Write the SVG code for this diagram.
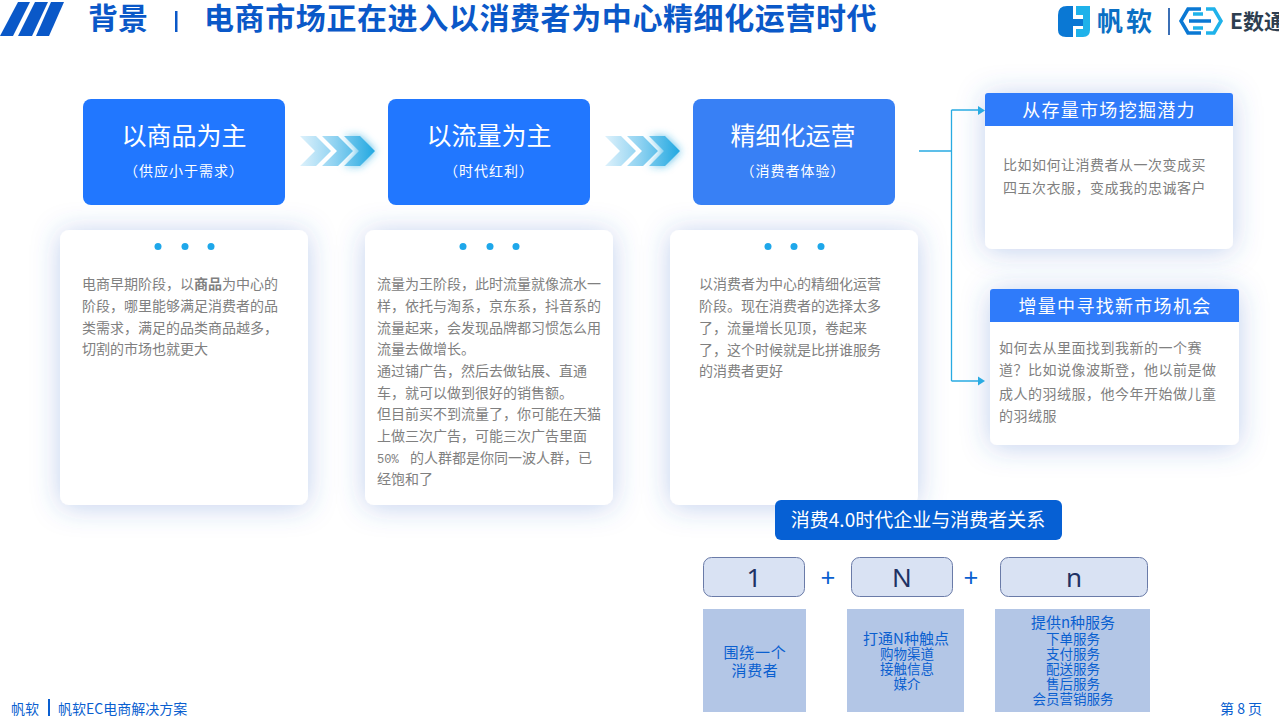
<svg xmlns="http://www.w3.org/2000/svg" width="1279" height="716" viewBox="0 0 1279 716">
<style>
text{font-family:"Noto Sans CJK SC","Noto Sans",sans-serif}
.tt{font-weight:700;font-size:30px;fill:#0a58c8}
.big{font-size:25px;fill:#fff;text-anchor:middle}
.sub{font-size:14px;fill:#fff;text-anchor:middle;letter-spacing:1px}
.b{font-size:14px;fill:#808080}
.r{font-size:14px;fill:#808080;letter-spacing:.5px}
.h{font-size:18px;fill:#fff;text-anchor:middle;letter-spacing:1.3px}
.bl{font-size:13.5px;fill:#0a5fd0;text-anchor:middle}
.bl1{font-size:15px;fill:#0a5fd0;text-anchor:middle}
.ft{font-size:14px;fill:#0a5fd0}
.dot{fill:#1ea7ea}
.card{fill:#fff;filter:url(#sh)}
.num{font-family:"Noto Sans",sans-serif;font-size:26px;fill:#1f3264;text-anchor:middle}
.nb{fill:#d9e2f3;stroke:#6a7ba8;stroke-width:1}
.ib{fill:#b3c6e6}
.plus{font-family:"Noto Sans",sans-serif;font-size:26px;fill:#0a5fd0;text-anchor:middle}
.cn{fill:none;stroke:#29abe2;stroke-width:1.3}
</style>
<defs>
<filter id="sh" x="-30%" y="-30%" width="160%" height="160%"><feDropShadow dx="0" dy="2" stdDeviation="14" flood-color="#3a66c8" flood-opacity=".3"/></filter>
<filter id="gl" x="-30%" y="-60%" width="160%" height="220%"><feGaussianBlur stdDeviation="4"/></filter>
<linearGradient id="cg" gradientUnits="userSpaceOnUse" x1="298" y1="0" x2="372" y2="0"><stop offset="0" stop-color="#e2f3fc"/><stop offset=".5" stop-color="#8fd2f1"/><stop offset="1" stop-color="#29abe2"/></linearGradient>
<linearGradient id="gg" gradientUnits="userSpaceOnUse" x1="298" y1="0" x2="372" y2="0"><stop offset="0" stop-color="#29abe2" stop-opacity="0"/><stop offset="1" stop-color="#29abe2" stop-opacity=".9"/></linearGradient>
<g id="chev"><polygon fill="url(#gg)" filter="url(#gl)" points="344,136 360,136 375,151 360,166 344,166 359,151"/>
<polygon fill="url(#cg)" points="300,136 316,136 331,151 316,166 300,166 315,151"/><polygon fill="url(#cg)" points="322,136 338,136 353,151 338,166 322,166 337,151"/><polygon fill="url(#cg)" points="344,136 360,136 375,151 360,166 344,166 359,151"/></g>
</defs>
<rect width="1279" height="716" fill="#fff"/>
<g id="header">
<polygon fill="#0a58c8" points="18,2 30,2 13,36 0,36"/><polygon fill="#0a58c8" points="35,2 48,2 32,36 18,36"/><polygon fill="#0a58c8" points="51,2 64,2 49,36 36,36"/>
<text class="tt" x="88" y="29">背景</text>
<rect x="175" y="11" width="2.5" height="21" fill="#0a58c8"/>
<text class="tt" x="204" y="29" style="letter-spacing:.6px">电商市场正在进入以消费者为中心精细化运营时代</text>
</g>
<g id="logo">
<path fill="#0a78d4" d="M1058,15Q1058,6 1067,6H1073V19H1083V26H1073V37H1066Q1058,37 1058,30Z"/>
<path fill="#1fb2ea" d="M1076,6H1090V30Q1090,37 1083,37H1076V29H1083V15H1076Z"/>
<text x="1097" y="31" font-size="26" font-weight="700" fill="#0a6fc4" letter-spacing="3">帆软</text>
<rect x="1168" y="8" width="2" height="27" fill="#3b6fb5"/>
<path fill="none" stroke="#0a78d4" stroke-width="3.5" d="M1201,9H1188L1181,21L1188,33H1201M1189,21H1211"/>
<path fill="none" stroke="#1fb2ea" stroke-width="3.5" d="M1206,9H1214L1221,21L1214,33H1206M1193,14H1203M1193,28H1203"/>
<text x="1230" y="29" font-size="21" font-weight="700" fill="#2d3e50">E数通</text>
</g>
<g id="card1"><rect class="card" x="60" y="230" width="248" height="275" rx="9"/>
<circle class="dot" cx="158" cy="246.500" r="3.500"/><circle class="dot" cx="185" cy="246.500" r="3.500"/><circle class="dot" cx="211" cy="246.500" r="3.500"/>
<text class="b" x="82" y="289">电商早期阶段，以<tspan font-weight="700">商品</tspan>为中心的</text>
<text class="b" x="82" y="311">阶段，哪里能够满足消费者的品</text>
<text class="b" x="82" y="333">类需求，满足的品类商品越多，</text>
<text class="b" x="82" y="354">切割的市场也就更大</text></g>
<g id="card2"><rect class="card" x="365" y="230" width="248" height="275" rx="9"/>
<circle class="dot" cx="463" cy="246.500" r="3.500"/><circle class="dot" cx="490" cy="246.500" r="3.500"/><circle class="dot" cx="516" cy="246.500" r="3.500"/>
<text class="b" x="377" y="289">流量为王阶段，此时流量就像流水一</text>
<text class="b" x="377" y="311">样，依托与淘系，京东系，抖音系的</text>
<text class="b" x="377" y="333">流量起来，会发现品牌都习惯怎么用</text>
<text class="b" x="377" y="354">流量去做增长。</text>
<text class="b" x="377" y="376">通过铺广告，然后去做钻展、直通</text>
<text class="b" x="377" y="398">车，就可以做到很好的销售额。</text>
<text class="b" x="377" y="419">但目前买不到流量了，你可能在天猫</text>
<text class="b" x="377" y="441">上做三次广告，可能三次广告里面</text>
<text class="b" x="377" y="463"><tspan font-family="Liberation Mono" font-size="12">50%</tspan><tspan x="410">的人群都是你同一波人群，已</tspan></text>
<text class="b" x="377" y="484">经饱和了</text></g>
<g id="card3"><rect class="card" x="670" y="230" width="248" height="275" rx="9"/>
<circle class="dot" cx="768" cy="246.500" r="3.500"/><circle class="dot" cx="794" cy="246.500" r="3.500"/><circle class="dot" cx="821" cy="246.500" r="3.500"/>
<text class="b" x="699" y="289">以消费者为中心的精细化运营</text>
<text class="b" x="699" y="311">阶段。现在消费者的选择太多</text>
<text class="b" x="699" y="333">了，流量增长见顶，卷起来</text>
<text class="b" x="699" y="355">了，这个时候就是比拼谁服务</text>
<text class="b" x="699" y="376">的消费者更好</text></g>
<g id="stage1"><rect x="83" y="99" width="202" height="106" rx="8" fill="#2177ff"/>
<text class="big" x="184" y="144.500">以商品为主</text><text class="sub" x="184" y="176">（供应小于需求）</text></g>
<g id="stage2"><rect x="388" y="99" width="202" height="106" rx="8" fill="#2177ff"/>
<text class="big" x="489" y="144.500">以流量为主</text><text class="sub" x="489" y="176">（时代红利）</text></g>
<g id="stage3"><rect x="693" y="99" width="202" height="106" rx="8" fill="#3880f5"/>
<text class="big" x="793" y="144.500">精细化运营</text><text class="sub" x="793" y="176">（消费者体验）</text></g>
<g id="chevrons"><use href="#chev"/><use href="#chev" x="305"/></g>
<g id="right1"><rect class="card" x="985" y="93" width="248" height="156" rx="7"/>
<path fill="#2f7bfa" d="M988,93H1230a3,3 0 0 1 3,3V126H985V96a3,3 0 0 1 3,-3Z"/>
<text class="h" x="1109" y="116.500">从存量市场挖掘潜力</text>
<text class="r" x="1003" y="170">比如如何让消费者从一次变成买</text>
<text class="r" x="1003" y="193">四五次衣服，变成我的忠诚客户</text></g>
<g id="right2"><rect class="card" x="990" y="289" width="249" height="156" rx="7"/>
<path fill="#2f7bfa" d="M993,289H1236a3,3 0 0 1 3,3V322H990V292a3,3 0 0 1 3,-3Z"/>
<text class="h" x="1115" y="312.500">增量中寻找新市场机会</text>
<text class="r" x="999" y="353">如何去从里面找到我新的一个赛</text>
<text class="r" x="999" y="375">道？比如说像波斯登，他以前是做</text>
<text class="r" x="999" y="399">成人的羽绒服，他今年开始做儿童</text>
<text class="r" x="999" y="421">的羽绒服</text></g>
<g id="connectors">
<path class="cn" d="M919,151H951.500M951.500,110V381M951.500,110H979M951.500,381H979"/>
<polygon fill="#29abe2" points="978,106 985,110.500 978,115"/><polygon fill="#29abe2" points="978,376.500 985,381 978,385.500"/>
</g>
<g id="relation"><rect x="775" y="500" width="287" height="40" rx="6" fill="#0660d4"/>
<text x="918" y="527" font-size="19" fill="#fff" text-anchor="middle">消费4.0时代企业与消费者关系</text></g>
<g id="n1"><rect class="nb" x="703.500" y="557.500" width="101" height="39" rx="8"/><text class="num" x="754" y="587">1</text></g>
<g id="n2"><rect class="nb" x="851.500" y="557.500" width="101" height="39" rx="8"/><text class="num" x="902" y="587">N</text></g>
<g id="n3"><rect class="nb" x="1000.500" y="557.500" width="147" height="39" rx="8"/><text class="num" x="1074" y="587">n</text></g>
<text class="plus" x="828" y="587">+</text><text class="plus" x="971" y="587">+</text>
<g id="i1"><rect class="ib" x="703" y="609" width="103" height="103"/>
<text class="bl1" x="755" y="658" style="letter-spacing:.7px">围绕一个</text><text class="bl1" x="755" y="676" style="letter-spacing:.7px">消费者</text></g>
<g id="i2"><rect class="ib" x="847" y="609" width="117" height="103"/>
<text class="bl1" x="906" y="644">打通N种触点</text><text class="bl" x="907" y="659">购物渠道</text><text class="bl" x="907" y="674">接触信息</text><text class="bl" x="907" y="689">媒介</text></g>
<g id="i3"><rect class="ib" x="995" y="609" width="155" height="103"/>
<text class="bl1" x="1073" y="628">提供n种服务</text><text class="bl" x="1073" y="644">下单服务</text><text class="bl" x="1073" y="659">支付服务</text><text class="bl" x="1073" y="674">配送服务</text><text class="bl" x="1073" y="689">售后服务</text><text class="bl" x="1073" y="704">会员营销服务</text></g>
<g id="footer"><text class="ft" x="11" y="714">帆软</text><rect x="48" y="699" width="2" height="17" fill="#0a5fd0"/>
<text class="ft" x="58" y="714">帆软EC电商解决方案</text>
<text class="ft" x="1220" y="714">第 8 页</text></g>
</svg>
